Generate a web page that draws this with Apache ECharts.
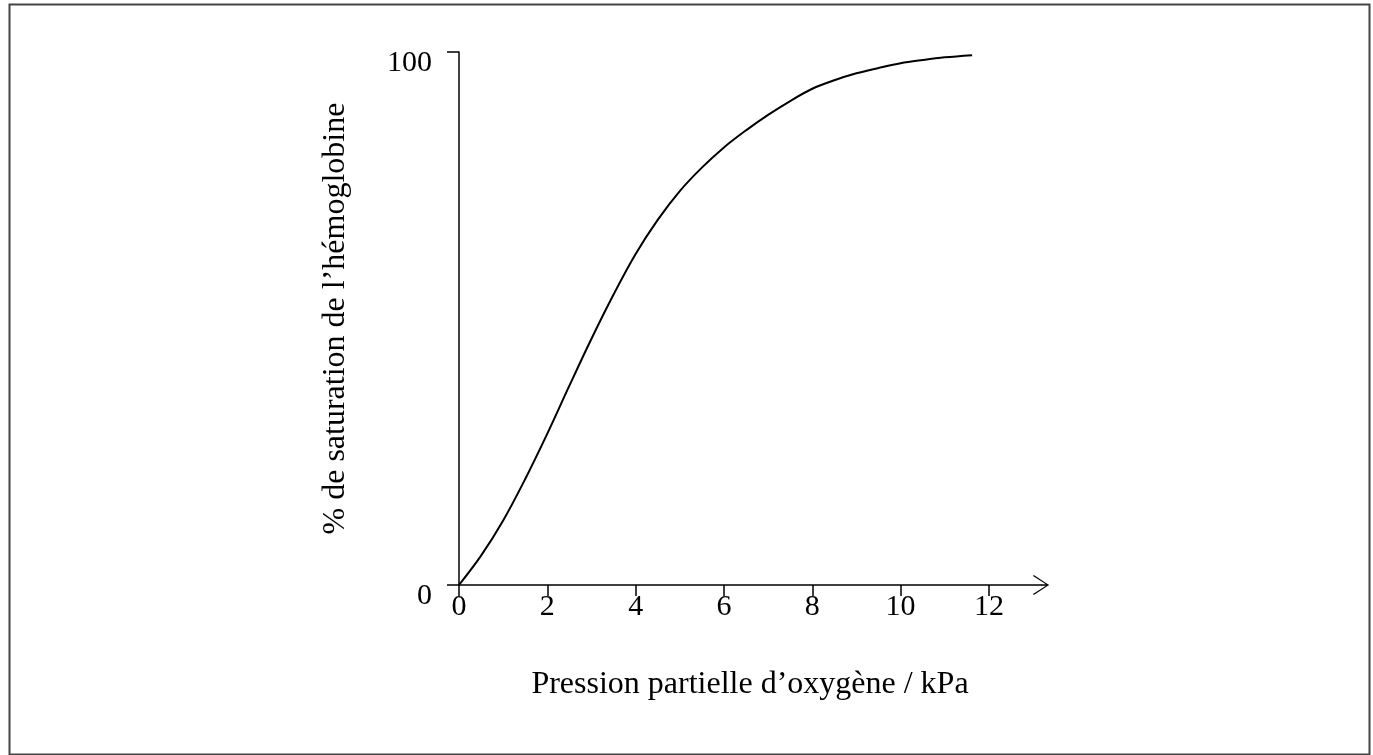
<!DOCTYPE html>
<html>
<head>
<meta charset="utf-8">
<script src="https://cdn.jsdelivr.net/npm/echarts@6/dist/echarts.min.js"></script>
<style>
  html, body { margin: 0; padding: 0; background: #fff; }
  #chart { width: 1373px; height: 755px; }
</style>
</head>
<body>
<div id="chart"></div>
<script>
// Oxygen–haemoglobin dissociation curve
const pressureKPa = [0, 0.5, 1, 1.5, 2, 2.5, 3, 3.5, 4, 4.5, 5, 5.5, 6, 6.5, 7, 7.5, 8, 8.5, 9, 9.5, 10, 10.5, 11, 11.62];
const saturationPct = [0, 5.5, 12.1, 19.9, 28.4, 37.4, 46.2, 54.5, 62.1, 68.5, 73.9, 78.3, 82.1, 85.3, 88.2, 90.8, 93.1, 94.7, 96, 97, 97.9, 98.5, 99, 99.4];
const xTickValues = [0, 2, 4, 6, 8, 10, 12];
const yTickValues = [0, 100];
const xTitle = 'Pression partielle d\u2019oxygène / kPa';
const yTitle = '% de saturation de l\u2019hémoglobine';

const FONT = '"Liberation Serif", "DejaVu Serif", serif';
const TICK_FS = 30;
const NAME_FS = 32;

const chart = echarts.init(document.getElementById('chart'), null, { renderer: 'canvas' });

// open chevron arrow head (tip on top) with a short stem joining the axis line
const chevron = 'path://M0,15.2 L10,0 L20,15.2 L19,16 L10,1.9 L1,16 Z M9.3,0.5 L10.7,0.5 L10.7,8 L9.3,8 Z';

chart.setOption({
  animation: false,
  backgroundColor: '#fff',
  graphic: [{
    type: 'rect',
    left: 7, top: 2,
    shape: { width: 1360, height: 750 },
    style: { fill: 'none', stroke: '#444', lineWidth: 2 }
  }],
  grid: { left: 459, right: 332, top: 52, bottom: 170, containLabel: false },
  xAxis: {
    type: 'value',
    min: 0,
    max: 13.18,
    axisLine: {
      show: true,
      onZero: false,
      symbol: ['none', chevron],
      symbolSize: [20, 16],
      lineStyle: { color: '#000', width: 1.5 }
    },
    axisTick: {
      show: true, length: 11, inside: false,
      customValues: xTickValues,
      lineStyle: { color: '#000', width: 1.5 }
    },
    axisLabel: {
      customValues: xTickValues,
      margin: 7,
      color: '#000',
      fontFamily: FONT,
      fontSize: TICK_FS
    },
    splitLine: { show: false },
    name: xTitle,
    nameLocation: 'middle',
    nameGap: 84,
    nameTextStyle: { color: '#000', fontFamily: FONT, fontSize: NAME_FS }
  },
  yAxis: {
    type: 'value',
    min: 0,
    max: 100,
    interval: 100,
    axisLine: { show: true, onZero: false, lineStyle: { color: '#000', width: 1.5 } },
    axisTick: { show: true, length: 12, inside: false, lineStyle: { color: '#000', width: 1.5 } },
    axisLabel: {
      customValues: yTickValues,
      margin: 27,
      color: '#000',
      fontFamily: FONT,
      fontSize: TICK_FS,
      verticalAlign: 'middle',
      formatter: v => '{v|' + v + '}',
      rich: { v: { fontFamily: FONT, fontSize: TICK_FS, color: '#000', padding: [22, 0, 0, 0] } }
    },
    splitLine: { show: false },
    name: yTitle,
    nameLocation: 'middle',
    nameGap: 107,
    nameTextStyle: { color: '#000', fontFamily: FONT, fontSize: NAME_FS }
  },
  series: [{
    type: 'line',
    data: pressureKPa.map((p, i) => [p, saturationPct[i]]),
    smooth: 0.35,
    showSymbol: false,
    lineStyle: { color: '#000', width: 2 },
    silent: true
  }]
});
</script>
</body>
</html>
